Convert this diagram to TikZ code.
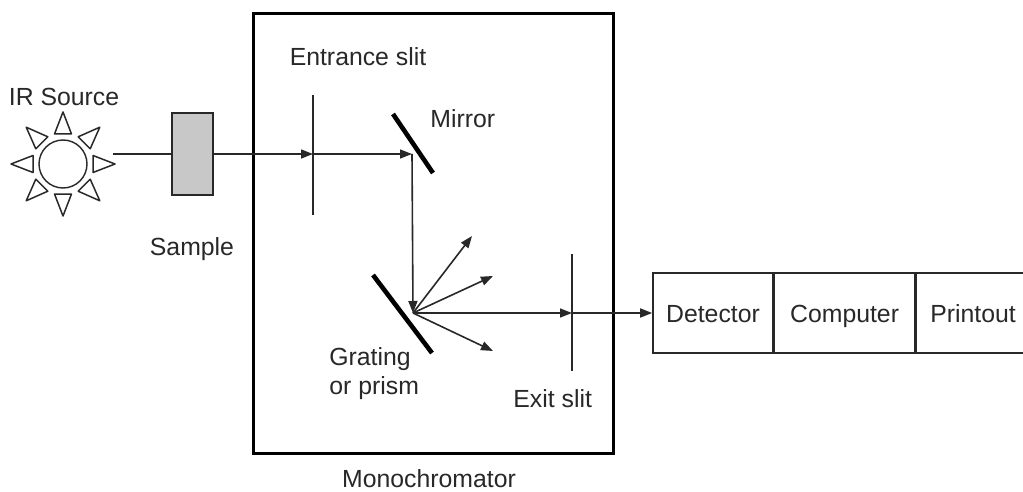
\documentclass[tikz,border=0pt]{standalone}
\usepackage{fontspec}
\setmainfont{Liberation Sans}
\usepackage{xcolor}
\usepackage{tikz}
\usetikzlibrary{arrows.meta,positioning,calc}

\definecolor{ink}{RGB}{40,40,40}
\definecolor{samplegray}{RGB}{200,200,200}

\tikzset{
	beam/.style={ink,line width=0.8pt,-{Triangle[length=6pt,width=4.5pt]}},
	ray/.style={ink,line width=0.8pt},
	slit/.style={ink,line width=0.7pt},
	reflector/.style={black,line width=2.3pt},
	unitbox/.style={draw=ink,line width=0.8pt,minimum height=40pt,inner sep=0pt},
	lbl/.style={text=ink,inner sep=0pt,font=\fontsize{12.4}{14}\selectfont}
}

\begin{document}
\begin{tikzpicture}[x=0.5pt,y=-0.5pt]
	
	% Define the page
	\useasboundingbox (0,0) rectangle (1023,492);
	
	% Draw the source
	\node[circle,draw=ink,line width=0.7pt,minimum size=24pt,inner sep=0pt] (src) at (63,164) {};
	\foreach \a in {0,45,...,315}
		\draw[ink,line width=0.75pt,line join=round,shift={(src.center)},rotate=\a] (30,-8.5) -- (52,0) -- (30,8.5) -- cycle;
	\node[lbl,anchor=base] (srclabel) at (64,106) {IR Source};
	\coordinate (srcout) at (113,154);
	
	% Draw the sample
	\node[draw=ink,fill=samplegray,line width=0.8pt,minimum width=20.5pt,minimum height=41pt,inner sep=0pt] (sample) at (192.5,154) {};
	\node[lbl,anchor=base] (samplelabel) at (192,255) {Sample};
	
	% Draw the monochromator
	\draw[black,line width=1.5pt] (253,14) rectangle (613,453);
	\node[lbl,anchor=base] (monolabel) at (429,487) {Monochromator};
	
	% Slits and reflectors
	\coordinate (ent) at (313,154);
	\coordinate (mir) at (412,154);
	\coordinate (grt) at (413,313);
	\coordinate (ext) at (572,313);
	\draw[slit] (313,95) -- (313,215);
	\draw[slit] (572,254) -- (572,371);
	\draw[reflector] (393,114) -- (433,173);
	\draw[reflector] (373,275) -- (432,353);
	\node[lbl,anchor=base] (entlabel) at (358,66) {Entrance slit};
	\node[lbl,anchor=base west] (mirlabel) at (430,127) {Mirror};
	\node[lbl,anchor=base west] (grtlabel) at (329,365) {Grating};
	\node[lbl,anchor=base west] (grtlabel2) at (329,394) {or prism};
	\node[lbl,anchor=base west] (extlabel) at (513,407) {Exit slit};
	
	% Detector, computer and printout
	\node[unitbox,minimum width=60pt] (det) at (713,313) {};
	\node[unitbox,minimum width=70pt,right=0pt of det] (comp) {};
	\node[unitbox,minimum width=70pt,right=0pt of comp] (prn) {};
	\node[lbl,anchor=base] at ([yshift=-4.5pt]det.center) {Detector};
	\node[lbl,anchor=base] at ([yshift=-4.5pt]comp.center) {Computer};
	\node[lbl,anchor=base] at (973,322) {Printout};
	
	% Draw the beam
	\draw[ray] (srcout) -- (sample.west);
	\draw[beam] (sample.east) -- (ent);
	\draw[beam] (ent) -- (mir);
	\draw[beam] (mir) -- (grt);
	\draw[beam] (grt) -- (ext);
	\draw[beam] (ext) -- (det.west);
	
	% Diffracted rays
	\coordinate (d1) at (472,236);
	\coordinate (d2) at (493,276);
	\coordinate (d3) at (493,351);
	\draw[beam] (grt) -- (d1);
	\draw[beam] (grt) -- (d2);
	\draw[beam] (grt) -- (d3);
	
\end{tikzpicture}
\end{document}
